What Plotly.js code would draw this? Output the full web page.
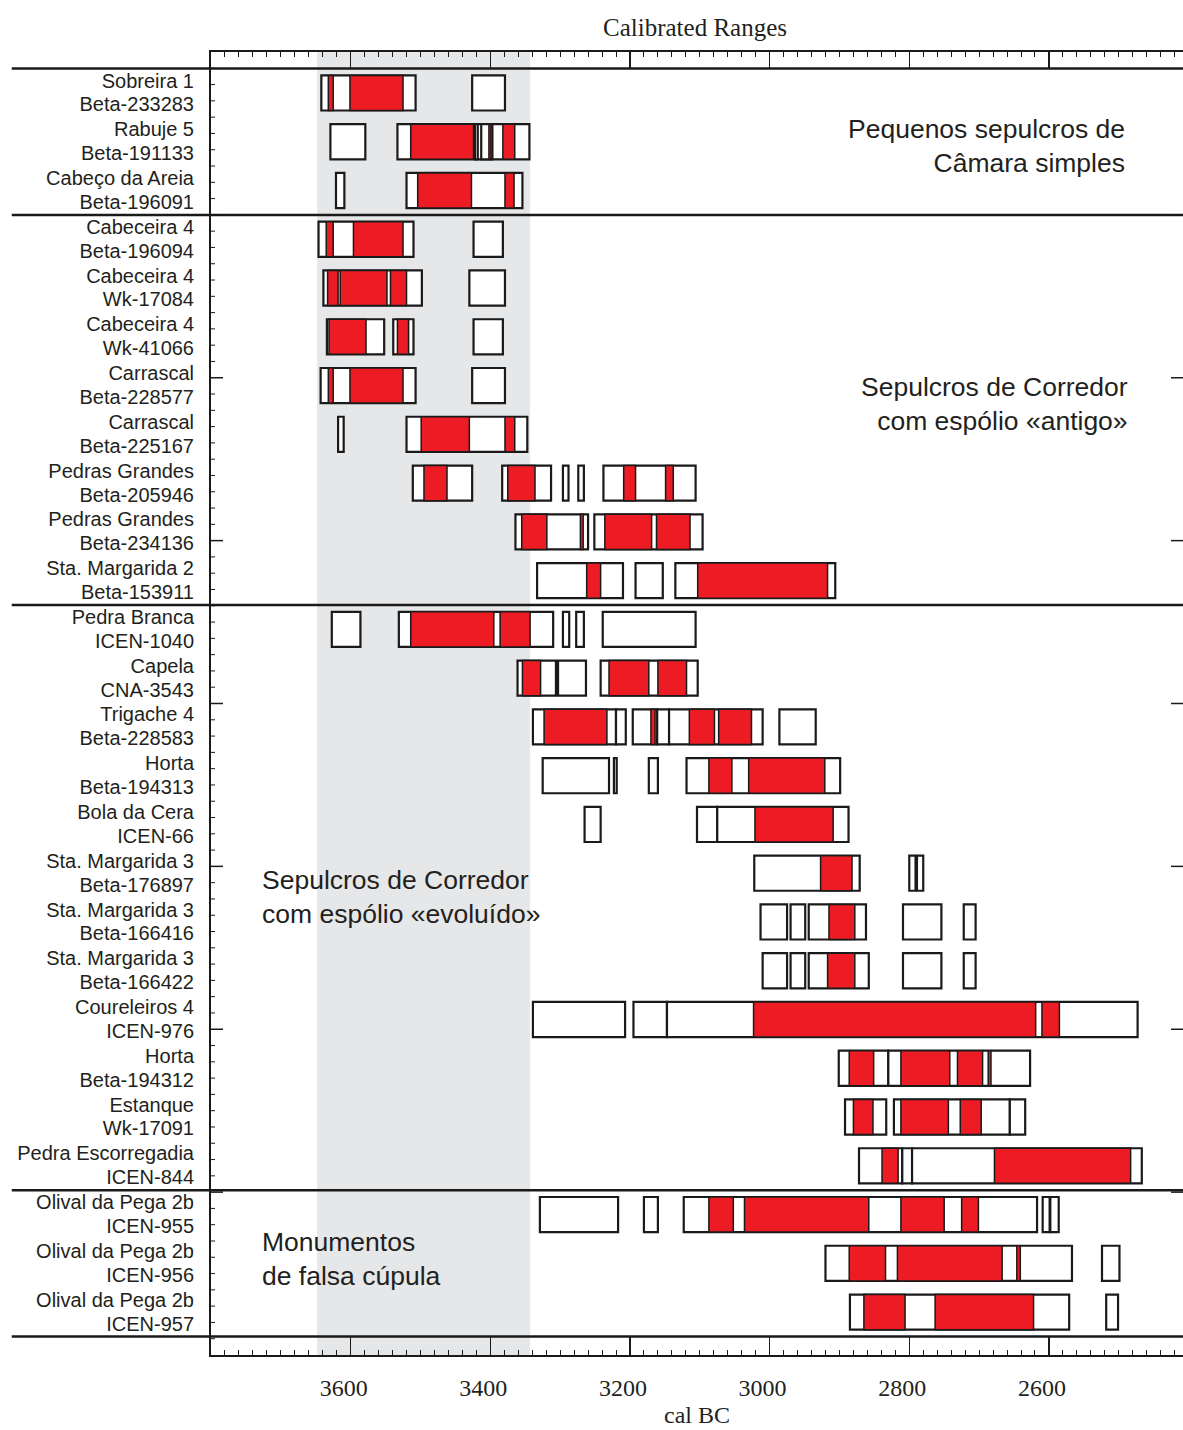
<!DOCTYPE html>
<html><head><meta charset="utf-8">
<script src="https://cdn.plot.ly/plotly-3.0.1.min.js"></script>
<style>html,body{margin:0;padding:0;background:#fff}#chart{width:1183px;height:1430px}</style>
</head><body><div id="chart"></div>
<script>
// ---------------- DATA ----------------
const siteNames = ["Sobreira 1","Rabuje 5","Cabeço da Areia","Cabeceira 4","Cabeceira 4","Cabeceira 4","Carrascal","Carrascal",
  "Pedras Grandes","Pedras Grandes","Sta. Margarida 2","Pedra Branca","Capela","Trigache 4","Horta","Bola da Cera",
  "Sta. Margarida 3","Sta. Margarida 3","Sta. Margarida 3","Coureleiros 4","Horta","Estanque","Pedra Escorregadia",
  "Olival da Pega 2b","Olival da Pega 2b","Olival da Pega 2b"];
const labCodes = ["Beta-233283","Beta-191133","Beta-196091","Beta-196094","Wk-17084","Wk-41066","Beta-228577","Beta-225167",
  "Beta-205946","Beta-234136","Beta-153911","ICEN-1040","CNA-3543","Beta-228583","Beta-194313","ICEN-66",
  "Beta-176897","Beta-166416","Beta-166422","ICEN-976","Beta-194312","Wk-17091","ICEN-844",
  "ICEN-955","ICEN-956","ICEN-957"];
// 95.4% ranges (white boxes), cal BC [from, to]
const ranges95 = [
  [[3642,3507],[3426,3379]],
  [[3629,3579],[3533,3344],[3422,3418],[3413,3397]],
  [[3621,3609],[3520,3354]],
  [[3646,3510],[3424,3382]],
  [[3639,3498],[3430,3379]],
  [[3634,3552],[3539,3510],[3424,3382]],
  [[3643,3507],[3426,3379]],
  [[3618,3610],[3520,3347]],
  [[3511,3426],[3383,3313],[3296,3288],[3274,3266],[3238,3106]],
  [[3364,3260],[3251,3096]],
  [[3333,3210],[3192,3153],[3135,2906]],
  [[3627,3586],[3531,3310],[3296,3287],[3277,3266],[3239,3106]],
  [[3361,3306],[3303,3263],[3242,3103]],
  [[3339,3220],[3220,3206],[3196,3161],[3161,3144],[3144,3010],[2986,2934]],
  [[3325,3230],[3223,3219],[3173,3160],[3119,2899]],
  [[3265,3242],[3104,3075],[3075,2887]],
  [[3022,2871],[2800,2791],[2789,2780]],
  [[3013,2975],[2970,2949],[2944,2862],[2809,2754],[2722,2705]],
  [[3010,2975],[2970,2949],[2944,2858],[2809,2754],[2722,2705]],
  [[3339,3207],[3195,3147],[3147,2473]],
  [[2901,2830],[2830,2627]],
  [[2892,2833],[2822,2656],[2656,2634]],
  [[2872,2810],[2810,2796],[2796,2467]],
  [[3329,3217],[3180,3160],[3123,2617],[2609,2599],[2598,2586]],
  [[2920,2567],[2524,2499]],
  [[2885,2571],[2518,2501]]
];
// 68.2% ranges (red boxes), cal BC [from, to]
const ranges68 = [
  [[3632,3625],[3601,3525]],
  [[3514,3424],[3402,3399],[3382,3365]],
  [[3504,3427],[3379,3366]],
  [[3635,3625],[3596,3525]],
  [[3633,3618],[3615,3548],[3543,3520]],
  [[3631,3578],[3533,3517]],
  [[3632,3625],[3601,3525]],
  [[3499,3430],[3379,3365]],
  [[3495,3462],[3375,3336],[3209,3192],[3149,3138]],
  [[3355,3319],[3271,3267],[3236,3169],[3162,3114]],
  [[3262,3242],[3103,2917]],
  [[3514,3395],[3386,3343]],
  [[3354,3328],[3230,3173],[3160,3119]],
  [[3323,3233],[3170,3164],[3115,3079],[3073,3026]],
  [[3087,3054],[3030,2921]],
  [[3021,2909]],
  [[2927,2882]],
  [[2915,2878]],
  [[2917,2878]],
  [[3023,2619],[2610,2585]],
  [[2886,2851],[2812,2742],[2731,2695],[2687,2683]],
  [[2880,2852],[2812,2744],[2727,2697]],
  [[2839,2816],[2678,2483]],
  [[3087,3052],[3036,2858],[2812,2750],[2725,2701]],
  [[2886,2834],[2817,2667],[2646,2641]],
  [[2865,2806],[2763,2622]]
];
const shadedPeriod = [3648, 3343];
const xTickValues = [3600, 3400, 3200, 3000, 2800, 2600];
const groupStartRows = [0, 3, 11, 23, 26];
const groupNames = ["Pequenos sepulcros de<br>Câmara simples", "Sepulcros de Corredor<br>com espólio «antigo»",
  "Sepulcros de Corredor<br>com espólio «evoluído»", "Monumentos<br>de falsa cúpula"];

// ---------------- BUILD ----------------
const Y_TOP = -0.84, Y_BOT = 25.88, X_LEFT = 3800, X_RIGHT = 2408;
const PLOT_W = 972, PLOT_H = 1303;
const INK = '#1a1a1a';
function toBars(ranges) {
  const y = [], base = [], x = [];
  ranges.forEach((list, i) => list.forEach(([a, b]) => { y.push(i); base.push(a); x.push(b - a); }));
  return {y, base, x};
}
const w = toBars(ranges95), r = toBars(ranges68);
const traces = [
  {type:'bar', orientation:'h', y:w.y, base:w.base, x:w.x, width:0.72,
   marker:{color:'#ffffff', line:{color:INK, width:2.2}}, hoverinfo:'skip', showlegend:false},
  {type:'bar', orientation:'h', y:r.y, base:r.base, x:r.x, width:0.72,
   marker:{color:'#ed1c24', line:{color:INK, width:1.5}}, hoverinfo:'skip', showlegend:false},
  {type:'scatter', mode:'markers', x:[], y:[], xaxis:'x2', yaxis:'y', hoverinfo:'skip', showlegend:false}
];

const tickvals = [], ticktext = [];
siteNames.forEach((s, i) => { tickvals.push(i - 0.255); ticktext.push(s); tickvals.push(i + 0.235); ticktext.push(labCodes[i]); });

const toPaperY = v => (Y_BOT - v) / (Y_BOT - Y_TOP);
const shapes = [
  {type:'rect', xref:'x', yref:'paper', x0:shadedPeriod[0], x1:shadedPeriod[1], y0:0, y1:1,
   fillcolor:'#e6e7e8', line:{width:0}, layer:'below'}
];
groupStartRows.forEach(g => {
  shapes.push({type:'line', xref:'paper', yref:'paper', x0:-0.205, x1:1, y0:toPaperY(g - 0.5), y1:toPaperY(g - 0.5),
    line:{color:INK, width:2.5}, layer:'above'});
});
// vertical-axis frame ticks (8 major divisions, 10 minor each)
for (let k = 1; k < 8; k++) {
  const py = k / 8;
  shapes.push({type:'line', xref:'paper', yref:'paper', x0:0, x1:12 / PLOT_W, y0:py, y1:py, line:{color:INK, width:1.5}});
  shapes.push({type:'line', xref:'paper', yref:'paper', x0:1 - 12 / PLOT_W, x1:1, y0:py, y1:py, line:{color:INK, width:1.5}});
}
for (let k = 1; k < 80; k++) {
  if (k % 10 === 0) continue;
  const py = k / 80;
  shapes.push({type:'line', xref:'paper', yref:'paper', x0:0, x1:4 / PLOT_W, y0:py, y1:py, line:{color:INK, width:1}});
}

const annFont = {family:'Liberation Sans, Arial, sans-serif', size:26.5, color:'#231f20'};
const annotations = [
  {text:groupNames[0], xref:'paper', yref:'y', x:0.942, y:1.09, xanchor:'right', yanchor:'middle', align:'right', showarrow:false, font:annFont},
  {text:groupNames[1], xref:'paper', yref:'y', x:0.945, y:6.38, xanchor:'right', yanchor:'middle', align:'right', showarrow:false, font:annFont},
  {text:groupNames[2], xref:'paper', yref:'y', x:0.050, y:16.49, xanchor:'left', yanchor:'middle', align:'left', showarrow:false, font:annFont},
  {text:groupNames[3], xref:'paper', yref:'y', x:0.050, y:23.91, xanchor:'left', yanchor:'middle', align:'left', showarrow:false, font:annFont}
];

const serif = 'Liberation Serif, Times New Roman, serif';
const minorTicks = {tickmode:'linear', tick0:0, dtick:20, ticks:'inside', ticklen:5, tickwidth:1, tickcolor:INK, showgrid:false};
const layout = {
  width:1183, height:1430, margin:{l:211, r:0, t:52, b:75},
  paper_bgcolor:'#ffffff', plot_bgcolor:'rgba(0,0,0,0)', barmode:'overlay', showlegend:false,
  title:{text:'Calibrated Ranges', font:{family:serif, size:25, color:'#231f20'},
         xref:'container', yref:'container', x:695/1183, y:1 - 27/1430, xanchor:'center', yanchor:'middle'},
  xaxis:{range:[X_LEFT, X_RIGHT], tickmode:'array', tickvals:xTickValues, ticks:'inside', ticklen:18, tickwidth:1.5, tickcolor:INK,
    showline:true, linecolor:INK, linewidth:2, mirror:false, showgrid:false, zeroline:false, minor:minorTicks,
    tickfont:{family:serif, size:24, color:'#231f20'}, ticklabelstandoff:10, ticklabelshift:7,
    title:{text:'cal BC', font:{family:serif, size:24, color:'#231f20'}, standoff:6}, automargin:false, fixedrange:true},
  xaxis2:{overlaying:'x', anchor:'y', side:'top', range:[X_LEFT, X_RIGHT], tickmode:'array', tickvals:xTickValues,
    ticks:'inside', ticklen:17, tickwidth:1.5, tickcolor:INK, showline:true, linecolor:INK, linewidth:2,
    showticklabels:false, showgrid:false, zeroline:false, minor:minorTicks, automargin:false, fixedrange:true},
  yaxis:{range:[Y_BOT, Y_TOP], tickmode:'array', tickvals:tickvals, ticktext:ticktext, ticks:'',
    showline:true, linecolor:INK, linewidth:2, showgrid:false, zeroline:false,
    tickfont:{family:'Liberation Sans, Arial, sans-serif', size:20, color:'#231f20'}, ticklabelstandoff:11,
    automargin:false, fixedrange:true},
  shapes:shapes, annotations:annotations
};
Plotly.newPlot('chart', traces, layout, {displayModeBar:false, staticPlot:true});
</script></body></html>
